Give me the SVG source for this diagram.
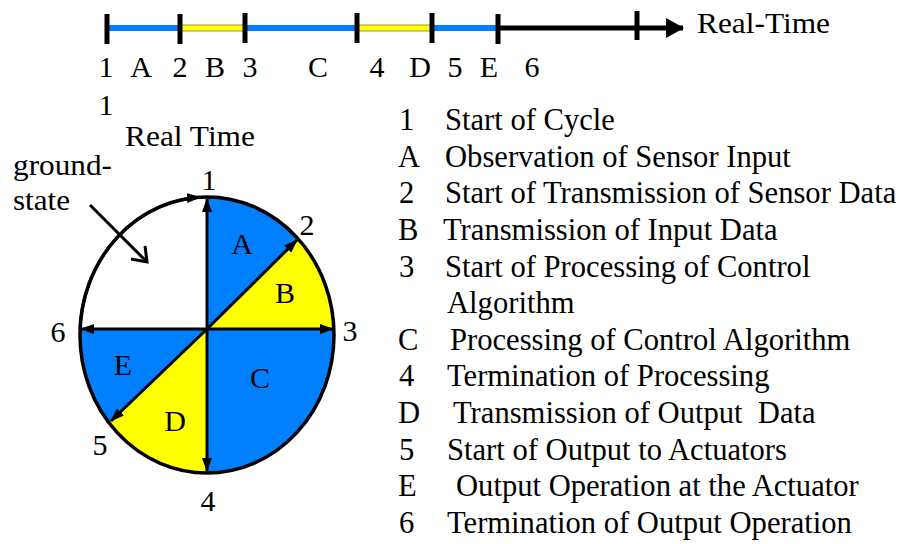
<svg xmlns="http://www.w3.org/2000/svg" width="903" height="544" viewBox="0 0 903 544">
<defs>
<style>
.t{font-family:"Liberation Serif","Times New Roman",serif;fill:#000}
.lg{font-size:30.6px}
.tl{font-size:30px;text-anchor:middle}
.cl{font-size:30px;text-anchor:middle}
.blue{fill:#0080ff}
.yel{fill:#ffff00}
.spoke{stroke:#000;stroke-width:3;fill:none;marker-end:url(#ah)}
.tick{stroke:#000;stroke-width:5}
</style>
<marker id="ah" viewBox="0 0 14 10" refX="13" refY="5" markerWidth="14" markerHeight="10" markerUnits="userSpaceOnUse" orient="auto"><path d="M0,0 L14,5 L0,10 z" fill="#000"/></marker>
<marker id="ah2" viewBox="0 0 18 20" refX="17" refY="10" markerWidth="18" markerHeight="20" markerUnits="userSpaceOnUse" orient="auto"><path d="M0,0 L18,10 L0,20 z" fill="#000"/></marker>
</defs>
<rect width="903" height="544" fill="#fff"/>

<g id="timeline">
<line x1="107" y1="28" x2="180" y2="28" stroke="#0080ff" stroke-width="6"/>
<line x1="180" y1="28" x2="245" y2="28" stroke="#ffff00" stroke-width="6"/>
<rect x="180" y="25" width="65" height="6" fill="none" stroke="#7a7a30" stroke-width="0.8"/>
<line x1="245" y1="28" x2="357" y2="28" stroke="#0080ff" stroke-width="6"/>
<line x1="357" y1="28" x2="432" y2="28" stroke="#ffff00" stroke-width="6"/>
<rect x="357" y="25" width="75" height="6" fill="none" stroke="#7a7a30" stroke-width="0.8"/>
<line x1="432" y1="28" x2="498" y2="28" stroke="#0080ff" stroke-width="6"/>
<line x1="498" y1="28" x2="683" y2="28" stroke="#000" stroke-width="5" marker-end="url(#ah2)"/>
<line class="tick" x1="107" y1="14" x2="107" y2="44"/>
<line class="tick" x1="180" y1="14" x2="180" y2="44"/>
<line class="tick" x1="245" y1="13" x2="245" y2="43"/>
<line class="tick" x1="357" y1="13" x2="357" y2="43"/>
<line class="tick" x1="432" y1="13" x2="432" y2="43"/>
<line class="tick" x1="498" y1="14" x2="498" y2="44"/>
<line class="tick" x1="637" y1="11" x2="637" y2="40"/>
<text class="t" x="697" y="33" font-size="30" textLength="133" lengthAdjust="spacingAndGlyphs">Real-Time</text>
<text class="t tl" x="106" y="77">1</text>
<text class="t tl" x="141" y="77">A</text>
<text class="t tl" x="180" y="77">2</text>
<text class="t tl" x="215" y="77">B</text>
<text class="t tl" x="250" y="77">3</text>
<text class="t tl" x="318" y="77">C</text>
<text class="t tl" x="377" y="77">4</text>
<text class="t tl" x="420" y="77">D</text>
<text class="t tl" x="455" y="77">5</text>
<text class="t tl" x="489" y="77">E</text>
<text class="t tl" x="532" y="77">6</text>
<text class="t tl" x="106" y="115">1</text>
</g>

<g id="cycle">
<path class="blue" d="M207,329 L207,197 A127,138 0 0 1 298,238 Z"/>
<path class="yel" d="M207,329 L298,238 A127,138 0 0 1 334,329 Z"/>
<path class="blue" d="M207,329 L334,329 A127,138 0 0 1 207,473 Z"/>
<path class="yel" d="M207,329 L207,473 A127,138 0 0 1 110,422 Z"/>
<path class="blue" d="M207,329 L110,422 A127,138 0 0 1 80,329 Z"/>
<ellipse cx="207" cy="335" rx="127" ry="138" fill="none" stroke="#000" stroke-width="3.5"/>
<text class="t" x="125" y="146" font-size="30" textLength="130" lengthAdjust="spacingAndGlyphs">Real Time</text>
<text class="t" x="13" y="175" font-size="30" textLength="99" lengthAdjust="spacingAndGlyphs">ground-</text>
<text class="t" x="13" y="210" font-size="30" textLength="57" lengthAdjust="spacingAndGlyphs">state</text>
<text class="t cl" x="209" y="190">1</text>
<text class="t cl" x="307" y="235">2</text>
<text class="t cl" x="350" y="341">3</text>
<text class="t cl" x="208" y="511">4</text>
<text class="t cl" x="100" y="455">5</text>
<text class="t cl" x="58" y="342">6</text>
<text class="t cl" x="242" y="254">A</text>
<text class="t cl" x="285" y="303">B</text>
<text class="t cl" x="260" y="388">C</text>
<text class="t cl" x="175" y="431">D</text>
<text class="t cl" x="123" y="375">E</text>
</g>

<g id="connectors">
<line class="spoke" x1="207" y1="329" x2="207" y2="199"/>
<line class="spoke" x1="207" y1="329" x2="297" y2="240"/>
<line class="spoke" x1="207" y1="329" x2="333" y2="329"/>
<line class="spoke" x1="207" y1="329" x2="207" y2="471"/>
<line class="spoke" x1="207" y1="329" x2="111" y2="421"/>
<line class="spoke" x1="207" y1="329" x2="81" y2="329"/>
<path class="spoke" d="M80,329 A127,138 0 0 1 200,197.3"/>
<line x1="90" y1="205" x2="147" y2="262" stroke="#000" stroke-width="3"/>
<polyline points="145,246 147,262 131,259" fill="none" stroke="#000" stroke-width="3"/>
</g>

<g id="legend">
<text class="t lg" x="399" y="130">1</text><text class="t lg" x="445" y="130">Start of Cycle</text>
<text class="t lg" x="398" y="166.6">A</text><text class="t lg" x="445" y="166.6">Observation of Sensor Input</text>
<text class="t lg" x="399" y="203.3">2</text><text class="t lg" x="445" y="203.3">Start of Transmission of Sensor Data</text>
<text class="t lg" x="398" y="239.9">B</text><text class="t lg" x="443" y="239.9">Transmission of Input Data</text>
<text class="t lg" x="399" y="276.5">3</text><text class="t lg" x="445" y="276.5">Start of Processing of Control</text>
<text class="t lg" x="447" y="313.2">Algorithm</text>
<text class="t lg" x="398" y="349.8">C</text><text class="t lg" x="450" y="349.8">Processing of Control Algorithm</text>
<text class="t lg" x="399" y="386.4">4</text><text class="t lg" x="447" y="386.4">Termination of Processing</text>
<text class="t lg" x="398" y="423">D</text><text class="t lg" x="453" y="423" xml:space="preserve">Transmission of Output  Data</text>
<text class="t lg" x="399" y="459.7">5</text><text class="t lg" x="447" y="459.7">Start of Output to Actuators</text>
<text class="t lg" x="398" y="496.3">E</text><text class="t lg" x="456" y="496.3">Output Operation at the Actuator</text>
<text class="t lg" x="399" y="533">6</text><text class="t lg" x="447" y="533">Termination of Output Operation</text>
</g>
</svg>
